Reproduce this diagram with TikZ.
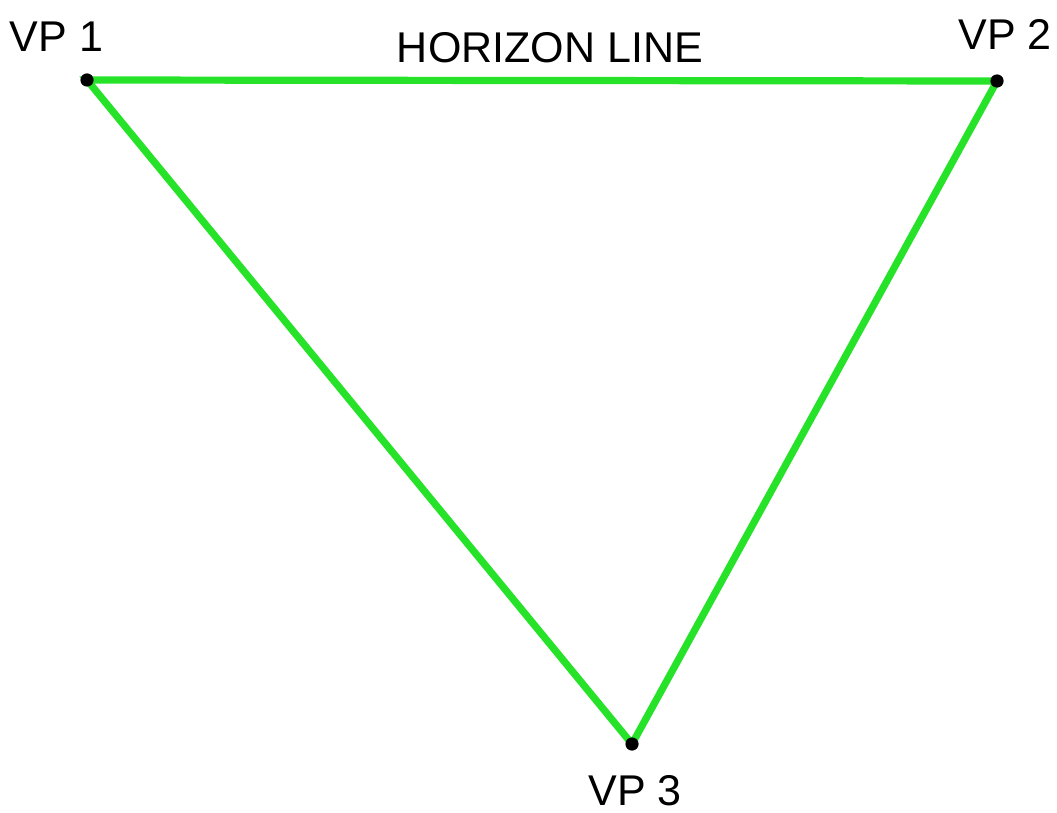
\documentclass[tikz,border=0pt]{standalone}
\usepackage{fontspec}
\setmainfont{Liberation Sans}
\usepackage{xcolor}
\usetikzlibrary{positioning, calc, backgrounds}
\definecolor{horizongreen}{RGB}{38,226,40}

\begin{document}
\begin{tikzpicture}[x=0.025cm, y=0.025cm,
    vp/.style={circle, fill=black, inner sep=0pt, minimum size=0.33cm},
    label/.style={font=\fontsize{30.6}{36}\selectfont, anchor=base, inner sep=0pt},
    persp/.style={horizongreen, line width=0.18cm, line cap=round}]
    \useasboundingbox (0,0) rectangle (1057,812);
    % Úběžníky
    \node[vp] (vp1) at (87,732) {};
    \node[vp] (vp2) at (997,731) {};
    \node[vp] (vp3) at (632,68) {};
    % Linie
    \begin{scope}[on background layer]
        \draw[persp] (vp1.center) -- (vp2.center) -- (vp3.center) -- cycle;
    \end{scope}
    % Popisky
    \node[label] (l1) at (56.5,760) {VP 1};
    \node[label] (l2) at (1005,762) {VP 2};
    \node[label] (l3) at (635,7) {VP 3};
    \node[label] (hz) at (550,749) {HORIZON LINE};
\end{tikzpicture}
\end{document}
